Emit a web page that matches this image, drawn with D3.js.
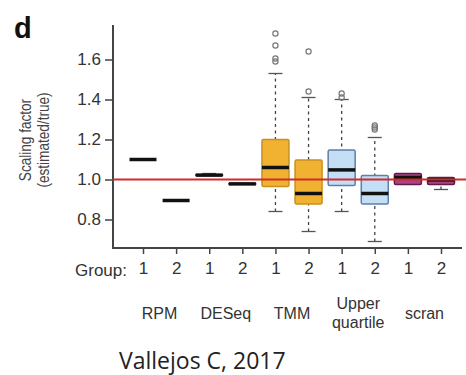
<!DOCTYPE html>
<html>
<head>
<meta charset="utf-8">
<script src="https://cdn.jsdelivr.net/npm/d3@7"></script>
<style>
  body { margin: 0; background: #fff; }
  svg { display: block; font-family: "Liberation Sans", Arial, sans-serif; }
</style>
</head>
<body>
<div id="chart"></div>
<script>
// one entry per box
const methods = ['RPM', 'RPM', 'DESeq', 'DESeq', 'TMM', 'TMM', 'Upper quartile', 'Upper quartile', 'scran', 'scran'];
const groups = ['1', '2', '1', '2', '1', '2', '1', '2', '1', '2'];
const whiskerLow = [1.10, 0.895, 1.02, 0.976, 0.84, 0.74, 0.84, 0.69, 0.975, 0.95];
const q1 = [1.10, 0.895, 1.02, 0.976, 0.965, 0.878, 0.97, 0.878, 0.975, 0.975];
const medians = [1.10, 0.895, 1.022, 0.978, 1.06, 0.93, 1.048, 0.93, 1.01, 0.998];
const q3 = [1.10, 0.895, 1.024, 0.98, 1.20, 1.098, 1.148, 1.02, 1.03, 1.01];
const whiskerHigh = [1.10, 0.895, 1.03, 0.98, 1.53, 1.41, 1.40, 1.21, 1.035, 1.012];
const outliers = [[], [], [], [], [1.73, 1.67, 1.605, 1.59], [1.64, 1.44], [1.43, 1.41], [1.27, 1.26, 1.25], [], []];
const yTicks = [0.8, 1.0, 1.2, 1.4, 1.6];
const methodLabels = [['RPM'], ['DESeq'], ['TMM'], ['Upper', 'quartile'], ['scran']];

const fills = { 'RPM': '#000', 'DESeq': '#000', 'TMM': '#f0b230', 'Upper quartile': '#c3def5', 'scran': '#a8448a' };
const strokes = { 'RPM': '#000', 'DESeq': '#000', 'TMM': '#c8901e', 'Upper quartile': '#5f7fa3', 'scran': '#5e1c4a' };

const width = 466, height = 375;
const svg = d3.select('#chart').append('svg').attr('width', width).attr('height', height);

const keys = d3.range(methods.length);
const x = d3.scalePoint().domain(keys).range([143, 441]);
const y = d3.scaleLinear().domain([0.8, 1.6]).range([219.5, 59.5]);
const boxW = 27;
const textColor = '#333';

// panel letter
svg.append('text').attr('x', 14).attr('y', 38)
  .attr('font-size', 29).attr('font-weight', 'bold').attr('fill', '#111').text('d');

// y axis label (narrow face, so squeeze along the text)
const yl = svg.append('g').attr('transform', 'translate(31,140) rotate(-90) scale(0.8,1)')
  .attr('text-anchor', 'middle').attr('fill', '#444').attr('font-size', 17);
yl.append('text').attr('y', 0).text('Scaling factor');
yl.append('text').attr('y', 18).text('(estimated/true)');

// y axis
const gy = svg.append('g').attr('transform', 'translate(113,0)')
  .call(d3.axisLeft(y).tickValues(yTicks).tickFormat(d3.format('.1f')).tickSize(8).tickSizeOuter(0));
gy.select('.domain').remove();
gy.selectAll('line').attr('stroke', '#444').attr('stroke-width', 1.5);
gy.selectAll('text').attr('font-size', 17).attr('fill', textColor).attr('x', -12)
  .attr('font-family', '"Liberation Sans", Arial, sans-serif');
svg.append('line').attr('x1', 113).attr('x2', 113).attr('y1', 25).attr('y2', 248.5)
  .attr('stroke', '#444').attr('stroke-width', 2);

// x axis
const gx = svg.append('g').attr('transform', 'translate(0,248)')
  .call(d3.axisBottom(x).tickFormat(i => groups[i]).tickSize(6).tickSizeOuter(0));
gx.select('.domain').remove();
gx.selectAll('line').attr('stroke', '#444').attr('stroke-width', 1.5);
gx.selectAll('text').attr('font-size', 17).attr('fill', textColor).attr('y', 14)
  .attr('font-family', '"Liberation Sans", Arial, sans-serif');
svg.append('line').attr('x1', 112).attr('x2', 462).attr('y1', 248).attr('y2', 248)
  .attr('stroke', '#444').attr('stroke-width', 2);
svg.append('text').attr('x', 127).attr('y', 276).attr('text-anchor', 'end')
  .attr('font-size', 17).attr('fill', textColor).text('Group:');

// method names under each pair
methodLabels.forEach((lines, k) => {
  const cx = (x(2 * k) + x(2 * k + 1)) / 2;
  const t = svg.append('text').attr('text-anchor', 'middle').attr('font-size', 16).attr('fill', textColor);
  const y0 = lines.length === 1 ? 319 : 309;
  lines.forEach((s, j) => t.append('tspan').attr('x', cx).attr('y', y0 + j * 19).text(s));
});

// boxes
const box = svg.append('g').selectAll('g').data(keys).join('g');

box.append('line')
  .attr('x1', i => x(i)).attr('x2', i => x(i))
  .attr('y1', i => y(whiskerLow[i])).attr('y2', i => y(whiskerHigh[i]))
  .attr('stroke', '#444').attr('stroke-width', 1.3).attr('stroke-dasharray', '3 3.5');
[whiskerLow, whiskerHigh].forEach(w => {
  box.filter(i => Math.abs(w[i] - (w === whiskerLow ? q1[i] : q3[i])) > 0.005)
    .append('line')
    .attr('x1', i => x(i) - 7).attr('x2', i => x(i) + 7)
    .attr('y1', i => y(w[i])).attr('y2', i => y(w[i]))
    .attr('stroke', '#555').attr('stroke-width', 1.3);
});

box.append('rect')
  .attr('x', i => x(i) - boxW / 2).attr('width', boxW)
  .attr('y', i => y(q3[i])).attr('height', i => Math.max(0, y(q1[i]) - y(q3[i])))
  .attr('fill', i => fills[methods[i]]).attr('stroke', i => strokes[methods[i]])
  .attr('stroke-width', 1.5).attr('rx', 1.5);

box.append('line')
  .attr('x1', i => x(i) - boxW / 2).attr('x2', i => x(i) + boxW / 2)
  .attr('y1', i => y(medians[i])).attr('y2', i => y(medians[i]))
  .attr('stroke', '#111').attr('stroke-width', 3.5);

box.selectAll('circle').data(i => outliers[i].map(v => ({ i, v }))).join('circle')
  .attr('cx', d => x(d.i)).attr('cy', d => y(d.v)).attr('r', 2.6)
  .attr('fill', 'none').attr('stroke', '#777').attr('stroke-width', 1.2);

// reference line at 1
svg.append('line').attr('x1', 113).attr('x2', width).attr('y1', y(1)).attr('y2', y(1))
  .attr('stroke', '#d42a2a').attr('stroke-width', 1.8);

// citation
svg.append('text').attr('x', 119).attr('y', 369)
  .attr('font-family', '"Open Sans", sans-serif').attr('font-size', 23).attr('fill', '#222')
  .text('Vallejos C, 2017');
</script>
</body>
</html>
